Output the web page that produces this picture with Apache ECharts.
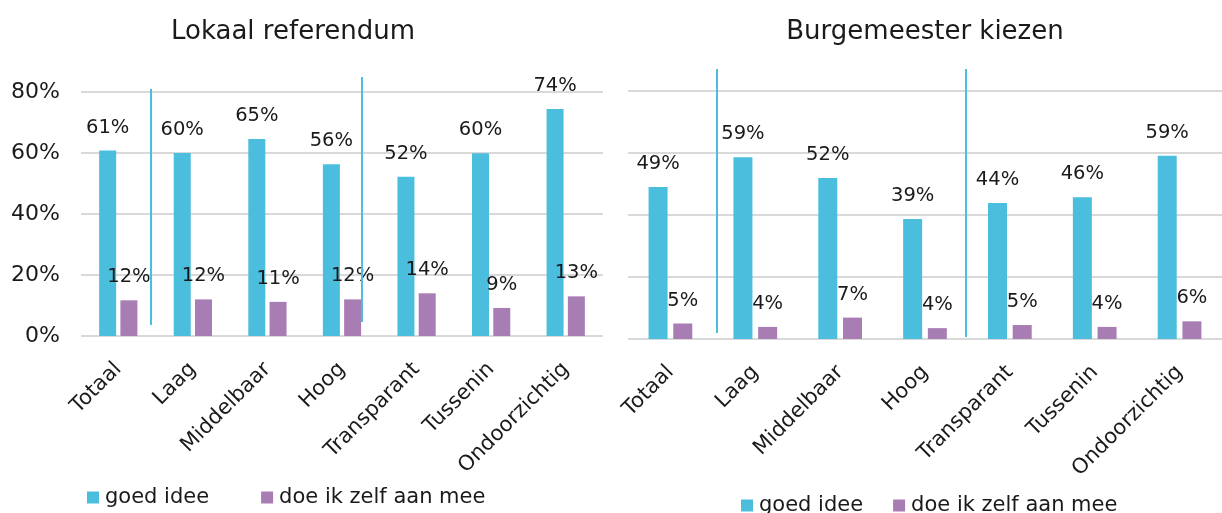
<!DOCTYPE html>
<html>
<head>
<meta charset="utf-8">
<script src="https://cdn.jsdelivr.net/npm/echarts@6/dist/echarts.min.js"></script>
<style>
  html, body { margin: 0; padding: 0; background: #fff; }
  #chart { width: 1222px; height: 513px; }
</style>
</head>
<body>
<div id="chart"></div>
<script>
const categories = ['Totaal', 'Laag', 'Middelbaar', 'Hoog', 'Transparant', 'Tussenin', 'Ondoorzichtig']
const yTicks = [0, 20, 40, 60, 80]

// Lokaal referendum
const refGoed = [60.8, 60.0, 64.6, 56.3, 52.2, 59.9, 74.4]
const refZelf = [11.7, 12.0, 11.2, 12.0, 14.0, 9.2, 13.0]

// Burgemeester kiezen
const burgGoed = [49.0, 58.6, 51.9, 38.7, 43.9, 45.7, 59.1]
const burgZelf = [5.0, 3.9, 6.9, 3.5, 4.5, 3.9, 5.7]

const blue = '#4abedc'
const purple = '#a87db3'
const font = 'DejaVu Sans'
const textColor = '#1a1a1a'

const chart = echarts.init(document.getElementById('chart'))

const barLabel = {
  show: true,
  position: 'top',
  distance: 13,
  fontFamily: font,
  fontSize: 19.5,
  color: textColor,
  formatter: p => Math.round(p.value) + '%'
}

function xAxis(gridIndex) {
  return {
    type: 'category',
    gridIndex: gridIndex,
    data: categories,
    axisLine: { show: false },
    axisTick: { show: false },
    axisLabel: {
      rotate: 45,
      margin: 30,
      interval: 0,
      fontFamily: font,
      fontSize: 21,
      color: textColor
    }
  }
}

function yAxis(gridIndex, showLabels) {
  return {
    type: 'value',
    gridIndex: gridIndex,
    min: yTicks[0],
    max: yTicks[yTicks.length - 1],
    interval: 20,
    axisLine: { show: false },
    axisTick: { show: false },
    splitLine: { lineStyle: { color: '#d9d9d9', width: 2 } },
    axisLabel: {
      show: showLabels,
      margin: 21,
      fontFamily: font,
      fontSize: 22,
      color: textColor,
      formatter: '{value}%'
    }
  }
}

function sepLine(x, y1, y2) {
  return {
    type: 'line',
    shape: { x1: x, y1: y1, x2: x, y2: y2 },
    style: { stroke: blue, lineWidth: 2 },
    z: 10
  }
}

const legendText = { fontFamily: font, fontSize: 21, color: textColor, padding: [0, 0, 0, 1] }

chart.setOption({
  animation: false,
  title: [
    {
      text: 'Lokaal referendum',
      left: 288,
      top: 14,
      textAlign: 'center',
      textStyle: { fontFamily: font, fontSize: 26, fontWeight: 'normal', color: textColor }
    },
    {
      text: 'Burgemeester kiezen',
      left: 920,
      top: 14,
      textAlign: 'center',
      textStyle: { fontFamily: font, fontSize: 26, fontWeight: 'normal', color: textColor }
    }
  ],
  legend: [
    {
      left: 82,
      top: 482,
      icon: 'rect',
      itemWidth: 12,
      itemHeight: 12,
      itemGap: 52,
      textStyle: legendText,
      data: ['goed idee', 'doe ik zelf aan mee']
    },
    {
      left: 736,
      top: 490,
      icon: 'rect',
      itemWidth: 12,
      itemHeight: 12,
      itemGap: 30,
      textStyle: legendText,
      data: ['goed idee', 'doe ik zelf aan mee']
    }
  ],
  grid: [
    { left: 81, top: 92, width: 522, height: 244 },
    { left: 628, top: 91, width: 605, height: 248 }
  ],
  xAxis: [xAxis(0), xAxis(1)],
  yAxis: [yAxis(0, true), yAxis(1, false)],
  series: [
    {
      name: 'goed idee', type: 'bar', xAxisIndex: 0, yAxisIndex: 0,
      data: refGoed, barWidth: 17, barGap: '25%',
      itemStyle: { color: blue }, label: barLabel
    },
    {
      name: 'doe ik zelf aan mee', type: 'bar', xAxisIndex: 0, yAxisIndex: 0,
      data: refZelf, barWidth: 17, barGap: '25%',
      itemStyle: { color: purple }, label: barLabel
    },
    {
      name: 'goed idee', type: 'bar', xAxisIndex: 1, yAxisIndex: 1,
      data: burgGoed, barWidth: 19, barGap: '30%',
      itemStyle: { color: blue }, label: barLabel
    },
    {
      name: 'doe ik zelf aan mee', type: 'bar', xAxisIndex: 1, yAxisIndex: 1,
      data: burgZelf, barWidth: 19, barGap: '30%',
      itemStyle: { color: purple }, label: barLabel
    }
  ],
  graphic: [
    sepLine(151, 89, 325),
    sepLine(362, 77, 322),
    sepLine(717, 69, 333),
    sepLine(966, 69, 337)
  ]
})
</script>
</body>
</html>
